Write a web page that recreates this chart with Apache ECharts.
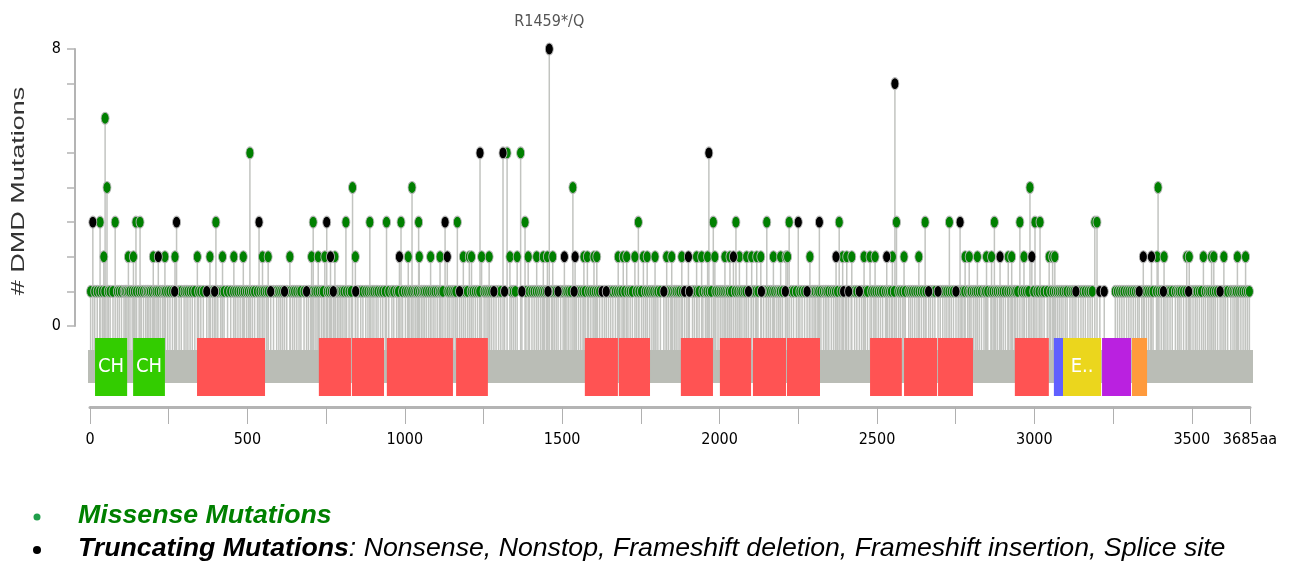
<!DOCTYPE html>
<html><head><meta charset="utf-8">
<script src="https://cdn.jsdelivr.net/npm/echarts@6/dist/echarts.min.js"></script>
<style>html,body{margin:0;padding:0;background:#fff}#c{width:1292px;height:563px}</style>
</head><body><div id="c"></div>
<script>
// ---------------- data ----------------
const proteinLength = 3685;
const xTickValues = [0,250,500,750,1000,1250,1500,1750,2000,2250,2500,2750,3000,3250,3500,3685];
const xLabelValues = [0,500,1000,1500,2000,2500,3000,3500,3685];
const yLabelValues = [0,8];

// missense mutation positions grouped by count
const missense1 = [2,15,23,31,39,47,58,64,73,87,93,100,108,112,117,122,127,134,141,148,156,163,170,177,182,187,192,198,205,210,216,223,230,235,240,247,254,262,283,290,299,305,311,318,325,333,345,352,360,378,383,390,406,415,420,426,437,447,456,463,470,477,484,490,497,503,510,516,523,532,540,547,553,560,566,583,593,600,606,612,625,637,644,650,657,664,670,680,694,701,708,715,721,728,735,741,754,760,767,780,786,791,796,801,807,815,823,830,851,860,867,876,883,890,896,902,909,915,923,930,938,949,959,965,974,980,993,1002,1009,1016,1022,1029,1035,1040,1047,1053,1058,1063,1069,1076,1083,1090,1096,1103,1110,1115,1121,1137,1143,1150,1156,1162,1180,1192,1199,1211,1217,1224,1231,1238,1252,1258,1264,1270,1276,1290,1298,1305,1339,1345,1351,1385,1396,1404,1411,1418,1425,1432,1438,1444,1450,1466,1475,1481,1495,1503,1510,1515,1521,1528,1545,1552,1559,1566,1573,1584,1591,1598,1605,1612,1619,1634,1647,1654,1661,1669,1676,1683,1690,1699,1709,1716,1723,1736,1744,1752,1764,1771,1778,1785,1791,1798,1804,1812,1830,1838,1845,1851,1857,1862,1868,1874,1882,1896,1914,1920,1928,1935,1947,1955,1960,1967,1974,1988,1995,2002,2008,2014,2020,2026,2031,2038,2050,2058,2065,2071,2078,2084,2100,2108,2115,2122,2140,2148,2156,2162,2169,2175,2182,2188,2193,2200,2228,2235,2244,2255,2262,2270,2285,2294,2300,2304,2310,2315,2322,2330,2336,2341,2347,2355,2362,2368,2375,2386,2400,2418,2429,2436,2451,2457,2463,2470,2483,2490,2497,2504,2511,2518,2527,2534,2540,2546,2555,2569,2575,2582,2590,2601,2607,2613,2620,2627,2634,2641,2648,2656,2670,2677,2684,2701,2709,2716,2722,2729,2736,2743,2758,2768,2773,2779,2788,2795,2799,2806,2812,2818,2825,2832,2840,2845,2852,2862,2869,2876,2882,2889,2895,2901,2908,2916,2923,2930,2936,2941,2947,2961,2968,2975,2982,2998,3008,3015,3024,3031,3041,3052,3060,3067,3073,3079,3085,3091,3098,3104,3113,3120,3126,3140,3148,3155,3162,3170,3177,3184,3257,3264,3271,3278,3285,3293,3300,3307,3314,3321,3328,3341,3349,3356,3363,3370,3377,3388,3396,3403,3418,3424,3431,3438,3448,3455,3460,3466,3474,3482,3497,3504,3511,3517,3524,3531,3543,3550,3555,3561,3568,3575,3582,3596,3607,3614,3624,3631,3637,3642,3649,3656,3663,3670,3677,3683];
const missense2 = [44,122,138,201,238,270,341,381,421,457,487,548,566,635,704,725,746,778,843,1011,1046,1082,1112,1186,1205,1212,1244,1268,1334,1357,1392,1419,1440,1453,1470,1569,1580,1601,1610,1678,1694,1705,1731,1758,1770,1795,1832,1848,1880,1927,1943,1962,1985,2017,2033,2063,2086,2102,2118,2131,2171,2194,2211,2216,2287,2391,2404,2420,2459,2478,2494,2549,2586,2633,2780,2793,2819,2848,2864,2917,2928,2967,3047,3058,3065,3390,3412,3484,3492,3537,3563,3570,3602,3645,3671];
const missense3 = [32,80,146,159,400,709,813,889,942,988,1044,1167,1382,1742,1980,2052,2150,2221,2380,2562,2653,2730,2873,2954,3002,3018,3192,3199];
const missense4 = [54,834,1023,1534,2986,3393];
const missense5 = [508,1325,1368];
const missense6 = [48];

// truncating mutation positions grouped by count
const truncating1 = [269,371,396,574,618,688,773,844,1174,1283,1317,1372,1455,1487,1538,1627,1640,1823,1889,1904,2092,2133,2209,2278,2394,2410,2444,2664,2694,2751,3132,3208,3222,3333,3410,3490,3590];
const truncating2 = [217,764,983,1135,1507,1541,1901,2044,2370,2531,2891,2992,3346,3372];
const truncating3 = [9,275,537,752,1128,2250,2317,2764];
const truncating5 = [1239,1312,1966];
const truncating7 = [2557];
const truncating8 = [1459];

const annotations = [[1459, 'R1459*/Q']];

// protein domains: start, end, type, shown label
const domainStarts = [16,137,340,727,832,943,1163,1572,1680,1877,2001,2106,2214,2478,2586,2694,2938,3062,3091,3215,3310];
const domainEnds   = [118,238,556,829,934,1153,1264,1677,1779,1979,2100,2211,2319,2579,2691,2805,3046,3091,3212,3307,3358];
const domainTypes  = ['CH','CH','Spectrin','Spectrin','Spectrin','Spectrin','Spectrin','Spectrin','Spectrin','Spectrin','Spectrin','Spectrin','Spectrin','Spectrin','Spectrin','Spectrin','Spectrin','WW','EF-hand_2','EF-hand_3','ZZ'];
const domainLabels = ['CH','CH','','','','','','','','','','','','','','','','','E..','',''];

// ---------------- styles ----------------
const domainColors = {'CH':'#33cc00','Spectrin':'#ff5353','WW':'#6060ff','EF-hand_2':'#ebd61d','EF-hand_3':'#ba21e0','ZZ':'#ff9a3c'};
const NARROW = '"DejaVu Sans Condensed", "Liberation Sans Narrow", "Arial Narrow", sans-serif';
const SANS = '"Liberation Sans", Arial, sans-serif';

function build(groups){
  const out = [];
  groups.forEach(([arr, n]) => arr.forEach(p => out.push([p, n])));
  return out;
}
const missenseData = build([[missense1,1],[missense2,2],[missense3,3],[missense4,4],[missense5,5],[missense6,6]]);
const truncData = build([[truncating1,1],[truncating2,2],[truncating3,3],[truncating5,5],[truncating7,7],[truncating8,8]]);
const annMap = new Map(annotations);
const truncItems = truncData.map(d => annMap.has(d[0]) ? {
  value: d,
  label: {show:true, position:'top', distance:13, formatter: annMap.get(d[0]), color:'#555', fontSize:16, fontFamily: NARROW}
} : d);
const allPoints = missenseData.concat(truncData);

const chart = echarts.init(document.getElementById('c'), null, {renderer:'canvas'});
chart.setOption({
  animation:false,
  grid:[
    {left:90, right:42, top:49, height:277},
    {left:90, right:42, top:338, height:69}
  ],
  xAxis:[
    {gridIndex:0, type:'value', min:0, max:proteinLength, show:false},
    {gridIndex:1, type:'value', min:0, max:proteinLength, position:'bottom',
     axisLine:{show:true, onZero:false, lineStyle:{color:'#b4b4b4', width:3}},
     axisTick:{show:true, customValues:xTickValues, length:17, lineStyle:{color:'#b0b0b0', width:1}},
     axisLabel:{customValues:xLabelValues, margin:25, color:'#000', fontSize:16, fontFamily:NARROW,
       formatter: v => v === proteinLength ? v + 'aa' : String(v)},
     splitLine:{show:false}}
  ],
  yAxis:[
    {gridIndex:0, type:'value', min:0, max:8, interval:1, offset:15, position:'left',
     axisLine:{show:true, onZero:false, lineStyle:{color:'#b4b4b4', width:2}},
     axisTick:{show:true, length:8, lineStyle:{color:'#b4b4b4', width:1.5}},
     axisLabel:{customValues:yLabelValues, margin:14, color:'#000', fontSize:16, fontFamily:NARROW},
     splitLine:{show:false}},
    {gridIndex:1, type:'value', min:0, max:1, show:false}
  ],
  series:[
    { // sequence bar
      type:'custom', xAxisIndex:1, yAxisIndex:1, data:[[0, proteinLength]], silent:true, z:1,
      renderItem(params, api){
        const cs = params.coordSys;
        const x1 = api.coord([api.value(0),0])[0], x2 = api.coord([api.value(1),0])[0];
        return {type:'rect', shape:{x:x1-2, y:cs.y+12, width:x2-x1+5, height:33}, style:{fill:'#babdb6'}};
      }
    },
    { // stems
      type:'custom', xAxisIndex:0, yAxisIndex:0, silent:true, z:2, clip:false,
      data: allPoints,
      renderItem(params, api){
        const top = api.coord([api.value(0), api.value(1)]);
        const base = api.coord([api.value(0), 0]);
        return {type:'line', shape:{x1:top[0], y1:top[1], x2:top[0], y2:base[1]+24}, style:{stroke:'#c2c4c0', lineWidth:1.5}};
      }
    },
    { // domains
      type:'custom', xAxisIndex:1, yAxisIndex:1, silent:true, z:3,
      data: domainStarts.map((s,i)=>[s, domainEnds[i]]),
      renderItem(params, api){
        const cs = params.coordSys;
        const i = params.dataIndex;
        const x1 = api.coord([api.value(0),0])[0], x2 = api.coord([api.value(1),0])[0];
        return {type:'group', children:[
          {type:'rect', shape:{x:x1, y:cs.y, width:x2-x1, height:58}, style:{fill:domainColors[domainTypes[i]]}},
          {type:'text', x:(x1+x2)/2, y:cs.y+29, style:{text:domainLabels[i], fill:'#fff', fontSize:20, fontFamily:NARROW, align:'center', verticalAlign:'middle'}}
        ]};
      }
    },
    {
      name:'Missense', type:'scatter', xAxisIndex:0, yAxisIndex:0, z:4,
      symbol:'circle', symbolSize:[8,12], data: missenseData,
      itemStyle:{color:'#008000', borderColor:'#b8b8b8', borderWidth:1, opacity:1}
    },
    {
      name:'Truncating', type:'scatter', xAxisIndex:0, yAxisIndex:0, z:5,
      symbol:'circle', symbolSize:[8,12], data: truncItems,
      itemStyle:{color:'#000', borderColor:'#b8b8b8', borderWidth:1, opacity:1}
    }
  ],
  graphic:[
    {type:'text', x:19, y:191, rotation:Math.PI/2, scaleX:1.5,
     style:{text:'# DMD Mutations', fill:'#333', fontSize:18, fontFamily:SANS, align:'center', verticalAlign:'middle'}},
    {type:'circle', shape:{cx:37, cy:517, r:3.5}, style:{fill:'#1f9e4a'}},
    {type:'circle', shape:{cx:37, cy:550, r:4}, style:{fill:'#000'}},
    {type:'text', x:78, y:516, style:{text:'Missense Mutations', fill:'#008000', fontSize:26.7, fontWeight:'bold', fontStyle:'italic', fontFamily:SANS, verticalAlign:'middle'}},
    {type:'text', x:78, y:549, style:{
      text:'{b|Truncating Mutations}{n|: Nonsense, Nonstop, Frameshift deletion, Frameshift insertion, Splice site}',
      verticalAlign:'middle',
      rich:{
        b:{fontSize:26.7, fontWeight:'bold', fontStyle:'italic', fill:'#000', fontFamily:SANS},
        n:{fontSize:26.7, fontStyle:'italic', fill:'#000', fontFamily:SANS}
      }}}
  ]
});
</script>
</body></html>
